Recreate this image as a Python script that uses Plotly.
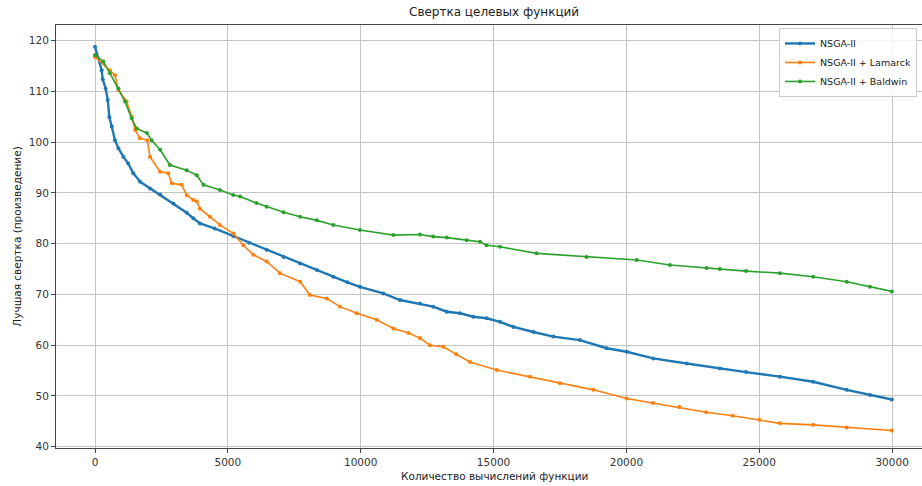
import plotly.graph_objects as go

# ---- data ----
nsga_x = [0, 250, 290, 400, 480, 540, 630, 750, 880, 1070, 1250, 1440, 1700, 2070, 2450, 2950,
          3450, 3700, 3950, 4500, 5200, 5800, 6460, 7100, 7720, 8350, 8970, 9500, 9970, 10850,
          11480, 12230, 12730, 13240, 13740, 14240, 14740, 15240, 15750, 16500, 17250, 18250,
          19260, 20010, 21010, 22270, 23520, 24500, 25780, 27030, 28290, 29170, 29990]
nsga_y = [118.8, 114.2, 112.4, 110.6, 108.3, 104.9, 103.1, 100.4, 98.8, 97.1, 95.8, 93.9, 92.2,
          90.9, 89.7, 87.9, 86.1, 85.0, 84.0, 83.0, 81.5, 80.2, 78.8, 77.4, 76.1, 74.8, 73.5,
          72.4, 71.5, 70.2, 68.9, 68.2, 67.6, 66.6, 66.3, 65.6, 65.3, 64.6, 63.6, 62.6, 61.7,
          61.0, 59.4, 58.7, 57.4, 56.4, 55.4, 54.7, 53.8, 52.8, 51.2, 50.2, 49.3]

lamarck_x = [0, 560, 750, 880, 1190, 1380, 1510, 1690, 1970, 2070, 2450, 2760, 2890, 3260, 3450,
             3700, 3830, 3950, 4330, 4700, 5210, 5580, 5960, 6460, 6960, 7720, 8090, 8720, 9220,
             9850, 10600, 11230, 11800, 12230, 12610, 13110, 13600, 14110, 15120, 16370, 17500,
             18760, 20010, 21000, 22000, 23000, 24000, 25000, 25780, 27030, 28290, 29990]
lamarck_y = [116.8, 114.2, 113.2, 110.3, 108.0, 105.0, 102.4, 100.8, 100.4, 97.1, 94.2, 93.9,
             91.9, 91.6, 89.6, 88.6, 88.3, 86.9, 85.3, 83.7, 82.0, 79.7, 77.8, 76.5, 74.2, 72.5,
             69.9, 69.2, 67.6, 66.3, 65.0, 63.3, 62.4, 61.4, 60.0, 59.7, 58.2, 56.7, 55.1, 53.8,
             52.5, 51.2, 49.5, 48.6, 47.8, 46.8, 46.1, 45.3, 44.6, 44.3, 43.8, 43.2]

baldwin_x = [0, 310, 560, 880, 1130, 1380, 1570, 1950, 2130, 2450, 2820, 3450, 3830, 4080, 4700,
             5200, 5460, 6080, 6460, 7100, 7720, 8350, 8970, 9970, 11230, 12230, 12730, 13240,
             13990, 14490, 14740, 15240, 16620, 18500, 20390, 21640, 23020, 23520, 24500, 25780,
             27030, 28290, 29170, 29990]
baldwin_y = [117.2, 115.9, 113.6, 110.6, 108.0, 104.7, 102.7, 101.8, 100.4, 98.5, 95.5, 94.5,
             93.5, 91.6, 90.6, 89.6, 89.3, 88.0, 87.3, 86.2, 85.3, 84.6, 83.7, 82.7, 81.7, 81.8,
             81.4, 81.2, 80.7, 80.4, 79.7, 79.4, 78.1, 77.4, 76.8, 75.8, 75.2, 75.0, 74.6, 74.2,
             73.5, 72.5, 71.5, 70.6]

series_names = ["NSGA-II", "NSGA-II + Lamarck", "NSGA-II + Baldwin"]
x_ticks = [0, 5000, 10000, 15000, 20000, 25000, 30000]
y_ticks = [40, 50, 60, 70, 80, 90, 100, 110, 120]

title_text = "Свертка целевых функций"
x_label = "Количество вычислений функции"
y_label = "Лучшая свертка (произведение)"

colors = ["#1f77b4", "#ff7f0e", "#2ca02c"]
widths = [2.4, 1.6, 1.6]
FONT = "DejaVu Sans"

fig = go.Figure()
for name, xs, ys, c, w in zip(series_names,
                              [nsga_x, lamarck_x, baldwin_x],
                              [nsga_y, lamarck_y, baldwin_y], colors, widths):
    fig.add_trace(go.Scatter(
        x=xs, y=ys, name=name, mode="lines+markers",
        line=dict(color=c, width=w),
        marker=dict(color=c, size=4, symbol="circle"),
    ))

W, H = 922, 486
ml, mr, mt, mb = 56, 0, 25, 38

axis_common = dict(
    showline=True, linecolor="#444", linewidth=1, mirror=True,
    ticks="outside", ticklen=4, tickcolor="#444", tickwidth=1,
    showgrid=True, gridcolor="#c4c4c4", gridwidth=1,
    zeroline=False,
    tickfont=dict(family=FONT, size=10.5, color="#333"),
)

fig.update_layout(
    width=W, height=H,
    margin=dict(l=ml, r=mr, t=mt, b=mb, autoexpand=False),
    paper_bgcolor="white", plot_bgcolor="white",
    font=dict(family=FONT, size=10.5, color="#333"),
    xaxis=dict(range=[-1468, 31125], tickvals=x_ticks, tickformat="d", **axis_common),
    yaxis=dict(range=[39.74, 123.1], tickvals=y_ticks, **axis_common),
    showlegend=True,
    legend=dict(
        x=(779 - ml) / (W - ml - mr), y=0.993, xanchor="left", yanchor="top",
        bgcolor="rgba(255,255,255,0.85)", bordercolor="#cccccc", borderwidth=1,
        font=dict(family=FONT, size=9.5, color="#222"),
        itemwidth=30, tracegroupgap=0,
    ),
    annotations=[
        dict(text=title_text, xref="paper", yref="paper", x=0.506, y=1.0,
             xanchor="center", yanchor="bottom", yshift=4, showarrow=False,
             font=dict(family=FONT, size=12, color="#222")),
        dict(text=x_label, xref="paper", yref="paper", x=0.506, y=0.0,
             xanchor="center", yanchor="top", yshift=-20, showarrow=False,
             font=dict(family=FONT, size=10.5, color="#222")),
        dict(text=y_label, xref="paper", yref="paper", x=-0.046, y=0.5,
             xanchor="center", yanchor="middle", textangle=-90, showarrow=False,
             font=dict(family=FONT, size=10.5, color="#222")),
    ],
)

fig.write_html("out.html",
               config={"displayModeBar": False},
               post_script="document.body.style.margin='0';document.body.style.overflow='hidden';")
